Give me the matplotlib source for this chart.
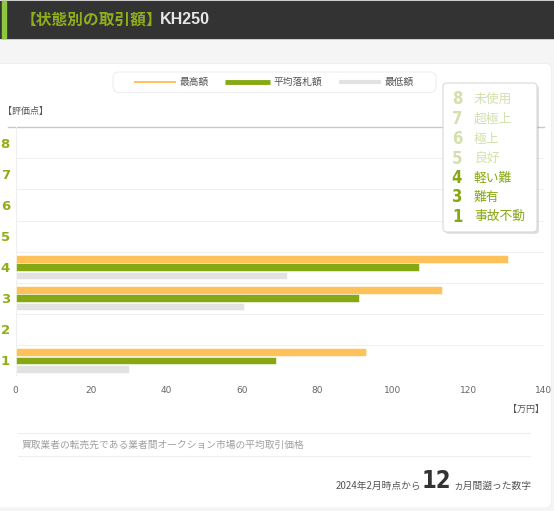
import matplotlib
matplotlib.use("Agg")
import matplotlib.pyplot as plt
from matplotlib.patches import FancyBboxPatch, Rectangle
from matplotlib.lines import Line2D
from matplotlib import font_manager as fm

plt.rcParams['font.family'] = ['Noto Sans CJK JP', 'DejaVu Sans']

# ---- data ----
title_cat = "【状態別の取引額】"
title_model = "KH250"
scores = [1, 2, 3, 4, 5, 6, 7, 8]
data_scores = [4, 3, 1]
max_price = [130.5, 113, 93]
avg_price = [107, 91, 69]
min_price = [72, 60.5, 30]
series_names = ["最高額", "平均落札額", "最低額"]
x_ticks = [0, 20, 40, 60, 80, 100, 120, 140]
cond_nums = ["8", "7", "6", "5", "4", "3", "1"]
cond_names = ["未使用", "超極上", "極上", "良好", "軽い難", "難有", "事故不動"]
cond_active = [False, False, False, False, True, True, True]

ORANGE = "#FFC15A"
GREEN = "#86A812"
GRAY = "#E2E2E2"
LIGHTGREEN = "#D3E0AE"

# look for a condensed bold font for the big digits
cond_fp = None
for f in fm.fontManager.ttflist:
    n = (f.name + " " + str(f.stretch)).lower()
    fname = f.fname.lower()
    if ("narrow" in n or "condensed" in n or "condensed" in fname or "narrow" in fname) \
            and ("bold" in fname or str(f.weight) in ("bold", "700")):
        cond_fp = fm.FontProperties(fname=f.fname)
        break


def cond_kw(size):
    if cond_fp is not None:
        fp = cond_fp.copy()
        fp.set_size(size)
        return dict(fontproperties=fp)
    return dict(fontsize=size, fontweight="bold", family=["DejaVu Sans"])


W, H = 554, 511
fig = plt.figure(figsize=(W / 100, H / 100), dpi=100)
fig.patch.set_facecolor("#F5F5F5")

bg = fig.add_axes([0, 0, 1, 1], zorder=0)
bg.set_xlim(0, W)
bg.set_ylim(H, 0)
bg.axis("off")

# header
bg.add_patch(Rectangle((0, 1), W, 37, color="#333333", zorder=1))
bg.add_patch(Rectangle((1.5, 1), 4.5, 37, color="#8DC63F", zorder=2))
bg.text(21, 19.5, title_cat, color="#8FAE1B", fontsize=11.3,
        fontweight="bold", va="center", ha="left", zorder=3)
bg.text(160, 19.5, title_model, color="#E6E6E6", fontsize=11.5,
        fontweight="bold", va="center", ha="left", zorder=3,
        family=["Liberation Sans", "DejaVu Sans"])

# white panel
bg.add_patch(FancyBboxPatch((-10, 63.5), 561.5, 444.5,
                            boxstyle="round,pad=0,rounding_size=6",
                            fc="white", ec="#EEEEEE", lw=0.6, zorder=1))

bg.text(3, 111, "【評価点】", color="#555555", fontsize=6.5, va="center", ha="left", zorder=3)
bg.text(544, 409, "【万円】", color="#555555", fontsize=6.5, va="center", ha="right", zorder=3)

# footer
bg.add_line(Line2D([18, 530], [433.5, 433.5], color="#EEEEEE", lw=0.8, zorder=3))
bg.add_line(Line2D([18, 530], [456.5, 456.5], color="#EEEEEE", lw=0.8, zorder=3))
bg.text(22, 445, "買取業者の転売先である業者間オークション市場の平均取引価格",
        color="#A0A0A0", fontsize=7, va="center", ha="left", zorder=3)
bg.text(421, 486, "2024年2月時点から", color="#555555", fontsize=7,
        va="center", ha="right", zorder=3)
bg.text(436.5, 481.5, "12", color="#333333", va="center", ha="center", zorder=3,
        **cond_kw(17 if cond_fp is not None else 15))
bg.text(453, 486, "ヵ月間遡った数字", color="#555555", fontsize=7,
        va="center", ha="left", zorder=3)

bg.add_line(Line2D([8, 544], [127.3, 127.3], color="#C8C8C8", lw=1.0, zorder=3))

# ---- chart axes ----
left, right, top, bottom = 15.5, 543.5, 127.3, 376
ax = fig.add_axes([left / W, 1 - bottom / H, (right - left) / W, (bottom - top) / H], zorder=1)
ax.set_facecolor("none")
ax.set_xlim(0, 140)
ax.set_ylim(0.5, 8.5)
for s in ax.spines.values():
    s.set_visible(False)
ax.axvline(0, color="#EFEFEF", lw=0.8, zorder=0)
for yb in [0.5 + i for i in range(8)]:
    ax.axhline(yb, color="#F0F0F0", lw=0.8, zorder=0)

h = 0.245
off = 0.27
ax.barh([s + off for s in data_scores], max_price, height=h, color=ORANGE,
        edgecolor="white", lw=0.4, zorder=2)
ax.barh(data_scores, avg_price, height=h, color=GREEN,
        edgecolor="white", lw=0.4, zorder=2)
ax.barh([s - off for s in data_scores], min_price, height=h, color=GRAY,
        edgecolor="white", lw=0.4, zorder=2)

ax.set_xticks(x_ticks)
ax.set_xticklabels([str(v) for v in x_ticks], color="#666666", fontsize=6.5,
                   family=["DejaVu Sans"])
ax.set_yticks(scores)
ax.set_yticklabels([str(s) for s in scores], color="#8FAE1B", fontsize=9.5,
                   fontweight="bold", family=["DejaVu Sans"])
ax.tick_params(axis="x", length=0, pad=7)
ax.tick_params(axis="y", length=0, pad=4)

# ---- overlay ----
ov = fig.add_axes([0, 0, 1, 1], zorder=5)
ov.set_xlim(0, W)
ov.set_ylim(H, 0)
ov.axis("off")
ov.patch.set_alpha(0)

ov.add_patch(FancyBboxPatch((113, 72), 323, 20.5,
                            boxstyle="round,pad=0,rounding_size=6",
                            fc="white", ec="#EEEEEE", lw=0.8))
leg_specs = [(134, 175.5, ORANGE, 1.4, 180, series_names[0]),
             (225, 270, GREEN, 3.5, 274, series_names[1]),
             (339, 380.5, GRAY, 3.0, 385, series_names[2])]
for x0, x1, c, lw, tx, name in leg_specs:
    ov.add_line(Line2D([x0, x1], [81.8, 81.8], color=c, lw=lw, solid_capstyle="butt"))
    ov.text(tx, 81.8, name, color="#555555", fontsize=7, va="center", ha="left")

ov.add_patch(FancyBboxPatch((445, 85), 94, 149,
                            boxstyle="round,pad=0,rounding_size=4",
                            fc="#000000", ec="none", alpha=0.12))
ov.add_patch(FancyBboxPatch((443, 83), 94, 149,
                            boxstyle="round,pad=0,rounding_size=4",
                            fc="white", ec="#D8D8D8", lw=0.8))
row_y = [99.3, 119.5, 139.3, 158.7, 178.3, 197.5, 216.7]
for yy, num, name, act in zip(row_y, cond_nums, cond_names, cond_active):
    c = GREEN if act else LIGHTGREEN
    ov.text(457, yy, num, color=c, va="center", ha="center",
            **cond_kw(12 if cond_fp is not None else 10.5))
    ov.text(474, yy, name, color=c, fontsize=9.2, va="center", ha="left")

fig.savefig("out.png", dpi=100, facecolor=fig.get_facecolor())
